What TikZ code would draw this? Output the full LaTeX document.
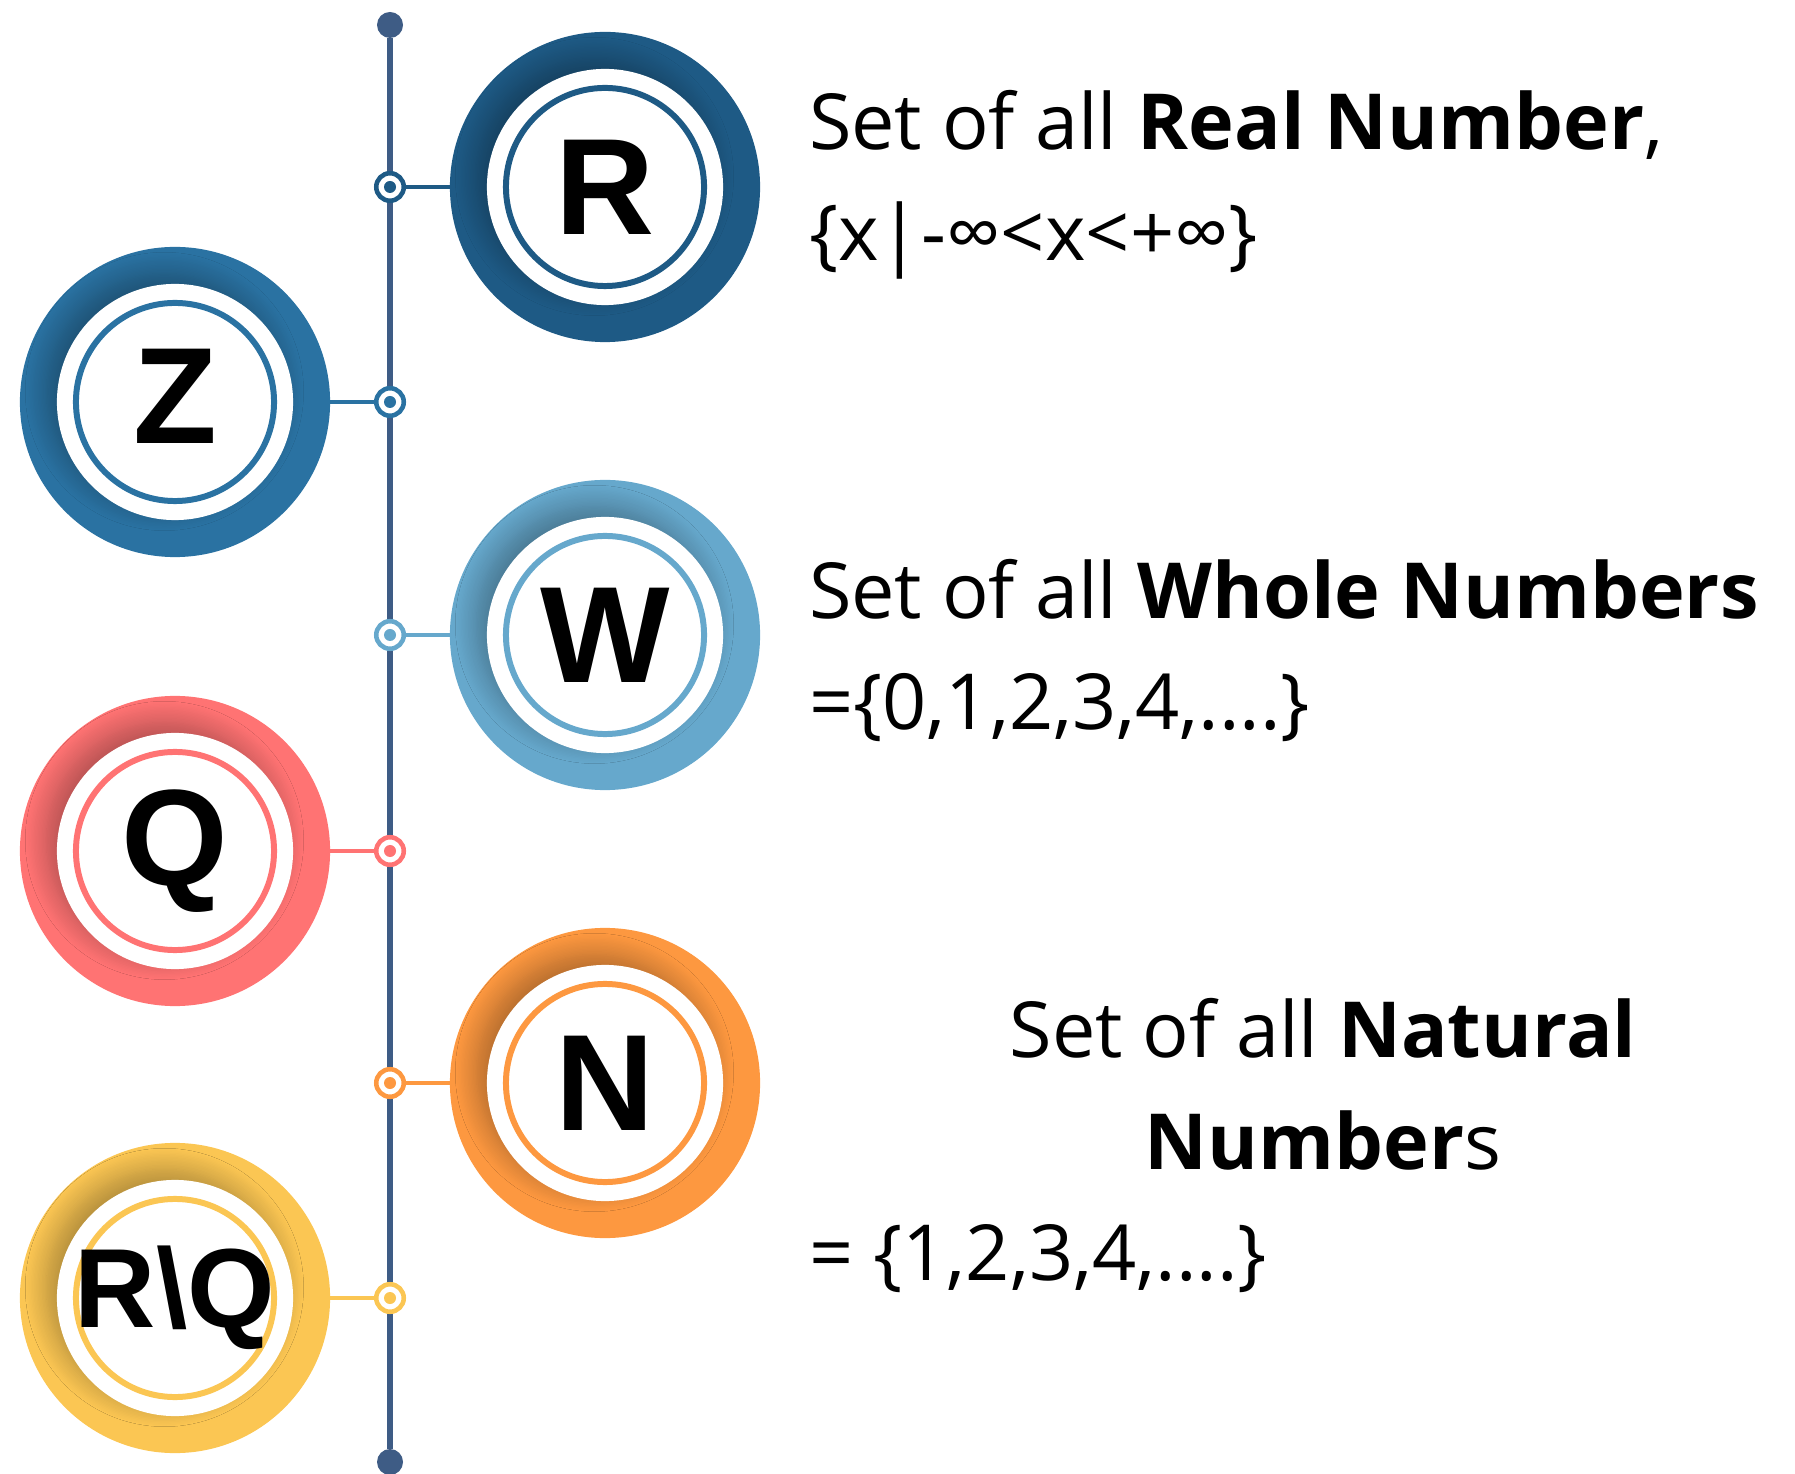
\documentclass[tikz,border=0pt]{standalone}
\usepackage{fontspec}
\setmainfont{Open Sans}
\newfontfamily\letrafont{Liberation Sans}
\usetikzlibrary{positioning, shadows.blur}
\definecolor{ejeazul}{HTML}{3E5C85}
\definecolor{setR}{HTML}{1E5A85}
\definecolor{setZ}{HTML}{2A72A2}
\definecolor{setW}{HTML}{66A8CC}
\definecolor{setQ}{HTML}{FF7373}
\definecolor{setN}{HTML}{FD9840}
\definecolor{setRQ}{HTML}{FBC653}

\begin{document}
\begin{tikzpicture}[
        x=0.01cm, y=-0.01cm,
        every node/.style={align=center, outer sep=0pt},
        % Anillo exterior r=155px, disco blanco r=118px (con sombra hacia
        % arriba-izquierda) y aro interior r=99px.
        anillo/.style={circle, fill=#1, minimum size=3.1cm, inner sep=0pt,
                       font=\letrafont\bfseries\fontsize{39}{39}\selectfont,
                       text=black,
                       path picture={
                         \fill[white, blur shadow={shadow xshift=-3pt,
                               shadow yshift=3pt, shadow blur radius=6pt,
                               shadow blur steps=16, shadow opacity=30}]
                           (path picture bounding box.center) circle (1.18cm);
                         \draw[#1, line width=1.7pt]
                           (path picture bounding box.center) circle (0.99cm);}},
        chica/.style={font=\letrafont\bfseries\fontsize{32}{32}\selectfont},
        hito/.style={circle, draw=#1, fill=white, line width=1.3pt,
                     minimum size=0.275cm, inner sep=0pt,
                     path picture={\fill[#1]
                       (path picture bounding box.center) circle (0.06cm);}},
        enlace/.style={draw=#1, line width=1.4pt},
        remate/.style={circle, fill=ejeazul, minimum size=0.26cm, inner sep=0pt},
        eje/.style={draw=ejeazul, line width=1.7pt},
        % en nodos de varias lineas, base = linea de base de la ultima linea
        texto/.style={font=\fontsize{22}{31.6}\selectfont, align=left,
                      inner sep=0pt}
    ]
        \useasboundingbox (0,0) rectangle (1795,1474);

        % eje vertical
        \node[remate] (top) at (390,25) {};
        \node[remate] (bot) at (390,1462) {};
        \draw[eje] (top) -- (bot);

        % anillos
        \node[anillo=setR]  (R)  at (605,187)  {R};
        \node[anillo=setZ]  (Z)  at (175,402)  {\raisebox{3pt}{Z}};
        \node[anillo=setW]  (W)  at (605,635)  {W};
        \node[anillo=setQ]  (Q)  at (175,851)  {Q};
        \node[anillo=setN]  (N)  at (605,1083) {N};
        \node[anillo=setRQ, chica] (RQ) at (175,1298) {\raisebox{2pt}{R\textbackslash Q}};

        % hitos sobre el eje
        \node[hito=setR]  (mR)  at (390,187)  {};
        \node[hito=setZ]  (mZ)  at (390,402)  {};
        \node[hito=setW]  (mW)  at (390,635)  {};
        \node[hito=setQ]  (mQ)  at (390,851)  {};
        \node[hito=setN]  (mN)  at (390,1083) {};
        \node[hito=setRQ] (mRQ) at (390,1298) {};

        \draw[enlace=setR]  (mR)  -- (R);
        \draw[enlace=setZ]  (mZ)  -- (Z);
        \draw[enlace=setW]  (mW)  -- (W);
        \draw[enlace=setQ]  (mQ)  -- (Q);
        \draw[enlace=setN]  (mN)  -- (N);
        \draw[enlace=setRQ] (mRQ) -- (RQ);

        % textos
        \node[texto, anchor=base west] (tR) at (809,261)
            {Set of all \textbf{Real Number},\\\{x|-∞<x<+∞\}};
        \node[texto, anchor=base west] (tW) at (809,730)
            {Set of all \textbf{Whole Numbers}\\=\{0,1,2,3,4,....\}};
        \node[texto, align=center, anchor=base] (tN) at (1323,1169)
            {Set of all \textbf{Natural}\\\textbf{Number}s};
        \node[texto, anchor=base west] (sN) at (809,1280)
            {= \{1,2,3,4,....\}};
    \end{tikzpicture}
\end{document}
